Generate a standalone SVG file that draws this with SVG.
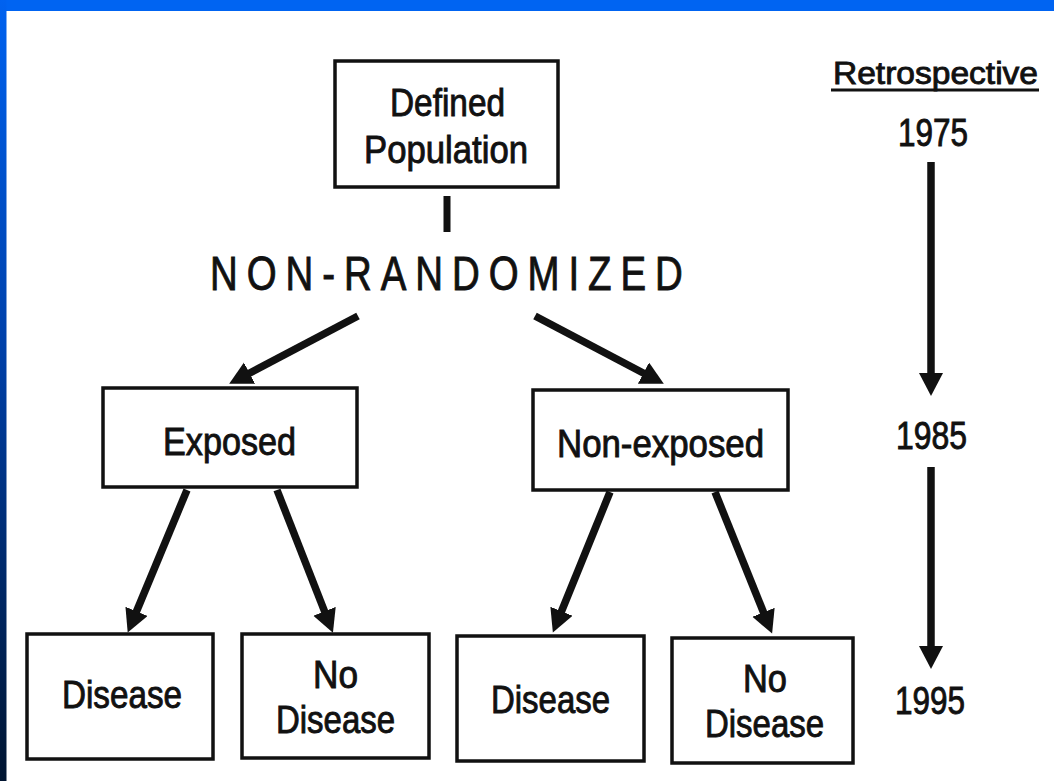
<svg xmlns="http://www.w3.org/2000/svg" width="1054" height="781" viewBox="0 0 1054 781">
  <style>
    .box { fill: #ffffff; stroke: #111111; stroke-width: 3.5; }
    .t { font-family: "Liberation Sans", Arial, sans-serif; font-size: 38px; fill: #111111; stroke: #111111; stroke-width: 0.9; }
    .arrow { stroke: #111111; stroke-width: 7.5; fill: none; marker-end: url(#head); }
  </style>
  <defs>
    <linearGradient id="leftGrad" x1="0" y1="0" x2="0" y2="1">
      <stop offset="0" stop-color="#0062f0"/>
      <stop offset="0.45" stop-color="#0040a8"/>
      <stop offset="1" stop-color="#001430"/>
    </linearGradient>
    <marker id="head" markerUnits="userSpaceOnUse" markerWidth="26" markerHeight="26" refX="4" refY="12" orient="auto" viewBox="0 0 26 26">
      <path d="M0,0 L23,12 L0,24 z" fill="#111111"/>
    </marker>
  </defs>

  <rect x="0" y="0" width="1054" height="781" fill="#ffffff"/>
  <rect x="0" y="0" width="1054" height="11" fill="#0064f2"/>
  <rect x="0" y="0" width="6.5" height="781" fill="url(#leftGrad)"/>

  <g id="connectors">
    <rect x="443.5" y="196" width="7" height="36" fill="#111111"/>
    <line class="arrow" x1="358" y1="316" x2="246" y2="375"/>
    <line class="arrow" x1="535" y1="316" x2="647" y2="375"/>
    <line class="arrow" x1="187" y1="490" x2="135" y2="615"/>
    <line class="arrow" x1="277" y1="490" x2="326" y2="615"/>
    <line class="arrow" x1="610" y1="492" x2="560" y2="615"/>
    <line class="arrow" x1="715" y1="492" x2="765" y2="616"/>
    <line class="arrow" x1="931" y1="162" x2="931" y2="377"/>
    <line class="arrow" x1="931" y1="467" x2="931" y2="650"/>
  </g>

  <g id="defined-population">
    <rect class="box" x="335" y="61" width="223" height="126"/>
    <text class="t" x="390" y="116" textLength="115" lengthAdjust="spacingAndGlyphs">Defined</text>
    <text class="t" x="364" y="163" textLength="164" lengthAdjust="spacingAndGlyphs">Population</text>
  </g>

  <g id="non-randomized">
    <text class="t" transform="translate(210,290) scale(0.8,1)" x="0" y="0" style="font-size:48px" textLength="591" lengthAdjust="spacing">NON-RANDOMIZED</text>
  </g>

  <g id="exposed">
    <rect class="box" x="103" y="388" width="254" height="99"/>
    <text class="t" x="163" y="455" textLength="133" lengthAdjust="spacingAndGlyphs">Exposed</text>
  </g>

  <g id="non-exposed">
    <rect class="box" x="533" y="390" width="255" height="100"/>
    <text class="t" x="557" y="457" textLength="207" lengthAdjust="spacingAndGlyphs">Non-exposed</text>
  </g>

  <g id="disease-exposed">
    <rect class="box" x="27" y="634" width="186" height="125"/>
    <text class="t" x="62" y="708" textLength="120" lengthAdjust="spacingAndGlyphs">Disease</text>
  </g>

  <g id="no-disease-exposed">
    <rect class="box" x="242" y="634" width="187" height="124"/>
    <text class="t" x="313" y="688" textLength="45" lengthAdjust="spacingAndGlyphs">No</text>
    <text class="t" x="276" y="733" textLength="119" lengthAdjust="spacingAndGlyphs">Disease</text>
  </g>

  <g id="disease-nonexposed">
    <rect class="box" x="457" y="636" width="187" height="125"/>
    <text class="t" x="491" y="713" textLength="119" lengthAdjust="spacingAndGlyphs">Disease</text>
  </g>

  <g id="no-disease-nonexposed">
    <rect class="box" x="672" y="638" width="181" height="125"/>
    <text class="t" x="743" y="692" textLength="44" lengthAdjust="spacingAndGlyphs">No</text>
    <text class="t" x="705" y="737" textLength="119" lengthAdjust="spacingAndGlyphs">Disease</text>
  </g>

  <g id="timeline">
    <text class="t" x="833" y="84" style="font-size:32px" textLength="205" lengthAdjust="spacingAndGlyphs">Retrospective</text>
    <rect x="831" y="88.5" width="208" height="3" fill="#111111"/>
    <text class="t" x="898" y="146" textLength="70" lengthAdjust="spacingAndGlyphs">1975</text>
    <text class="t" x="896" y="449" textLength="71" lengthAdjust="spacingAndGlyphs">1985</text>
    <text class="t" x="895" y="714" textLength="70" lengthAdjust="spacingAndGlyphs">1995</text>
  </g>
</svg>
